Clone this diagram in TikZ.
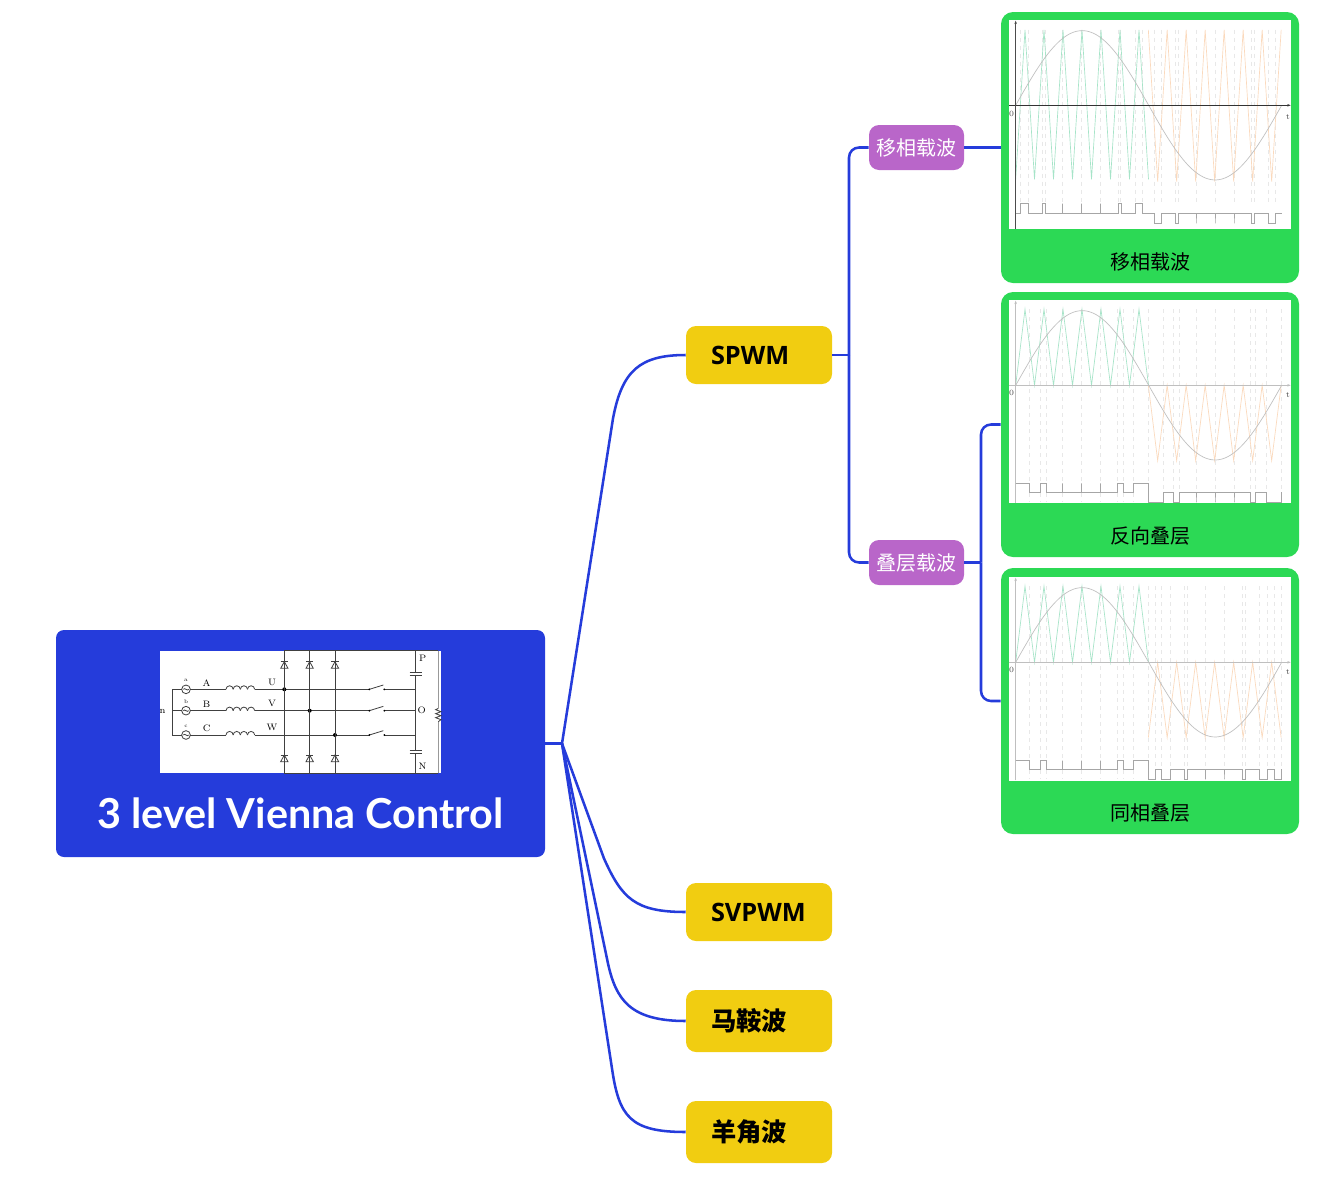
\documentclass[tikz,border=0pt]{standalone}
\usepackage{fontspec}
\newfontfamily\topicfont{Open Sans}
\newfontfamily\cjk{Noto Sans CJK SC}
\newfontfamily\titlefont{Lato}
\usepackage{tikz}
\usetikzlibrary{positioning, arrows.meta}
\definecolor{accblue}{HTML}{253CDB}
\definecolor{accgreen}{HTML}{2CD955}
\definecolor{accyellow}{HTML}{F1CD11}
\definecolor{accpurple}{HTML}{B966C9}
\definecolor{wavegreen}{HTML}{A6E4C8}
\definecolor{waveorange}{HTML}{FBD9BC}

\begin{document}
\begin{tikzpicture}[x=0.75pt, y=-0.75pt,
                rootbox/.style={fill=accblue, rounded corners=6pt, minimum width=366.75pt, minimum height=170.25pt, inner sep=0pt},
                topicbox/.style={fill=accyellow, rounded corners=7.5pt, minimum width=109.5pt, inner xsep=18.75pt, text width=72pt, align=left, font=\fontsize{19}{21}\selectfont\topicfont\bfseries},
                tagbox/.style={fill=accpurple, rounded corners=7.5pt, minimum width=71.25pt, minimum height=33.75pt, inner sep=0pt, text=white, font=\fontsize{15}{17}\selectfont\cjk},
                cardbox/.style={fill=accgreen, rounded corners=9pt, minimum width=223.5pt, inner sep=0pt},
                shotbox/.style={fill=white, minimum width=211.5pt, inner sep=0pt},
                cardlabel/.style={font=\fontsize{15}{17}\selectfont\cjk},
                edge/.style={draw=accblue, line width=1.9pt},
                wire/.style={draw=black!75, line width=0.6pt},
                sinewave/.style={draw=black!25, line width=0.5pt},
                greenwave/.style={draw=wavegreen, line width=0.5pt},
                orangewave/.style={draw=waveorange, line width=0.5pt},
                guide/.style={draw=black!9, line width=0.4pt, dashed},
                pwmline/.style={draw=black!35, line width=0.6pt},
                plotlabel/.style={font=\fontsize{6}{7}\selectfont, text=black!70, inner sep=0pt},
                circuitlabel/.style={font=\fontsize{7}{8}\selectfont, inner sep=0pt}
            ]
            \useasboundingbox (0,0) rectangle (1336,1193);

            % nodes
            \node[rootbox] (root) at (300.5,743.5) {};
            \node[fill=white, minimum width=210.75pt, minimum height=91.5pt, inner sep=0pt] (circuit) at (300.5,712) {};
            \node[text=white, inner sep=0pt, font=\fontsize{31}{33}\selectfont\titlefont\bfseries] (title) at (300.5,813) {3 level Vienna Control};
            \node[topicbox, minimum height=43.5pt] (spwm) at (759,355) {SPWM};
            \node[topicbox, minimum height=43.5pt] (svpwm) at (759,912) {SVPWM};
            \node[topicbox, minimum height=46.5pt] (saddle) at (759,1021) {\cjk 马鞍波};
            \node[topicbox, minimum height=46.5pt] (sheep) at (759,1132) {\cjk 羊角波};
            \node[tagbox] (shift) at (916.5,147.5) {\raisebox{-0.75pt}{移相载波}};
            \node[tagbox] (stack) at (916.5,562.5) {\raisebox{-0.75pt}{叠层载波}};
            \node[cardbox, minimum height=203.25pt] (cardA) at (1150,147.5) {};
            \node[cardbox, minimum height=198.75pt] (cardB) at (1150,424.5) {};
            \node[cardbox, minimum height=199.5pt] (cardC) at (1150,701) {};
            \node[shotbox, minimum height=156.75pt] (shotA) at (1150,124.5) {};
            \node[shotbox, minimum height=152.25pt] (shotB) at (1150,401.5) {};
            \node[shotbox, minimum height=153pt] (shotC) at (1150,679) {};
            \node[cardlabel] (labelA) at (1150,261.5) {移相载波};
            \node[cardlabel] (labelB) at (1150,535.5) {反向叠层};
            \node[cardlabel] (labelC) at (1150,812.5) {同相叠层};
            \coordinate (hub) at (562,743.5);
            \coordinate (trunk) at (849,355);
            \coordinate (branch) at (981,562.5);

            % edges
            \draw[edge] (root.east) -- (hub);
            \draw[edge] (hub) -- ++(51,-325) .. controls ++(9,-48) and (640,355) .. (spwm.west);
            \draw[edge] (hub) -- ++(42,115) .. controls ++(18,40) and (635,912) .. (svpwm.west);
            \draw[edge] (hub) -- ++(46,220) .. controls ++(8,36) and (630,1021) .. (saddle.west);
            \draw[edge] (hub) -- ++(50,325) .. controls ++(7,48) and (630,1132) .. (sheep.west);
            \draw[edge] (spwm.east) -- (trunk);
            \draw[edge, rounded corners=7.5pt] (trunk) |- (shift.west);
            \draw[edge, rounded corners=7.5pt] (trunk) |- (stack.west);
            \draw[edge] (shift.east) -- (cardA.west |- shift.east);
            \draw[edge] (stack.east) -- (branch);
            \draw[edge, rounded corners=7.5pt] (branch) |- (cardB.west);
            \draw[edge, rounded corners=7.5pt] (branch) |- (cardC.west);

            % circuit
            \begin{scope}[shift={(150,640)}, scale=1/3]
                \draw[wire] (95,148) -- (67,148) -- (67,285) -- (95,285) (67,212) -- (95,212);
                \foreach \yw/\src/\phase/\out in {148/a/A/U, 212/b/B/V, 285/c/C/W} {
                    \draw[wire] (108,\yw) circle (13);
                    \draw[wire] (100,\yw) .. controls (104,\yw-7) and (112,\yw+7) .. (116,\yw);
                    \draw[wire] (121,\yw) -- (228,\yw);
                    \foreach \xi in {228,249.5,271,292.5} {
                        \draw[wire] (\xi,\yw) arc (180:360:10.75);
                    }
                    \draw[wire] (314,\yw) -- (658,\yw);
                    \draw[wire] (658,\yw) -- (700,\yw-13);
                    \draw[wire] (703,\yw) -- (797,\yw);
                    \fill (658,\yw) circle (3);
                    \fill (703,\yw) circle (3);
                    \node[circuitlabel, font=\fontsize{4}{5}\selectfont] (src\src) at (108,\yw-26) {\src};
                    \node[circuitlabel] (ph\phase) at (170,\yw-20) {\phase};
                    \node[circuitlabel] (out\out) at (366,\yw-22) {\out};
                }
                \foreach \xc/\yc in {403/148, 479/212, 555/285} {
                    \fill (\xc,\yc) circle (6);
                }
                \foreach \xc in {403,479,555} {
                    \draw[wire] (\xc,32) -- (\xc,400);
                    \foreach \yd in {65,345} {
                        \draw[wire] (\xc-11,\yd+20) -- (\xc+11,\yd+20) -- (\xc,\yd) -- cycle;
                        \draw[wire] (\xc-11,\yd) -- (\xc+11,\yd);
                    }
                }
                \draw[wire] (403,32) -- (865,32) (403,400) -- (865,400);
                \draw[wire] (797,32) -- (797,97) (797,107) -- (797,330) (797,341) -- (797,400);
                \draw[wire] (779,97) -- (815,97) (779,107) -- (815,107);
                \draw[wire] (779,330) -- (815,330) (779,341) -- (815,341);
                \draw[draw=black!40, line width=1pt] (865,32) -- (865,205) (865,245) -- (865,400);
                \draw[wire] (865,205) -- (857,209) -- (873,215) -- (857,221) -- (873,227) -- (857,233) -- (873,239) -- (865,245);
                \node[circuitlabel] (plabel) at (818,55) {P};
                \node[circuitlabel] (olabel) at (815,210) {O};
                \node[circuitlabel] (nlabel) at (818,378) {N};
                \node[circuitlabel] (nleft) at (38,215) {n};
            \end{scope}

            % phase shifted carriers
            \begin{scope}[shift={(1000,105.3)}, scale=1/3]
                \foreach \xg in {62,85,128,135,188,245,302,355,362,405,428,462,485,525,535,588,645,702,755,762,805,825} {
                    \draw[guide] (\xg,-226) -- (\xg,295);
                }
                \draw[greenwave] (47,222) \foreach \xp in {75,132,189,246,303,360,417} { -- (\xp,-226) -- (\xp+28.5,222)};
                \draw[orangewave] (445,-226) \foreach \xt in {473,530,587,644,701,758,815} { -- (\xt,229) -- (\xt+28.5,-226)};
                \draw[sinewave] plot[domain=47:845, samples=120, smooth] (\x,{-224*sin((\x-47)/798*360)});
                \draw[draw=black!80, line width=0.6pt, -{Stealth[length=2.5pt]}] (27,0) -- (872,0);
                \draw[draw=black!70, line width=0.6pt, -{Stealth[length=2.5pt]}] (47,372) -- (47,-254);
                \draw[pwmline] (47,324) -| (62,295) -| (85,324) -| (128,295) -| (135,324) -| (188,295) -| (188,324) -| (245,295) -| (245,324) -| (302,295) -| (302,324) -| (355,295) -| (365,324) -| (407,295) -| (428,324) -| (462,354) -| (485,324) -| (525,354) -| (535,324) -| (588,354) -| (588,324) -| (645,354) -| (645,324) -| (702,354) -| (702,324) -| (755,354) -| (763,324) -| (805,354) -| (825,324) -- (845,324);
                \node[plotlabel] (zeroA) at (35,26) {0};
                \node[plotlabel] (timeA) at (864,34) {t};
            \end{scope}

            % opposite disposition
            \begin{scope}[shift={(1000,385.3)}, scale=1/3]
                \foreach \xg in {88,122,139,188,245,302,353,370,401,445,490,521,538,588,645,702,750,765,800,845} {
                    \draw[guide] (\xg,-228) -- (\xg,350);
                }
                \draw[greenwave] (47,0) \foreach \xp in {75,132,189,246,303,360,417} { -- (\xp,-228) -- (\xp+28.5,0)};
                \draw[orangewave] (445,0) \foreach \xt in {473,530,587,644,701,758,815} { -- (\xt,226) -- (\xt+28.5,0)};
                \draw[sinewave] plot[domain=47:845, samples=120, smooth] (\x,{-224*sin((\x-47)/798*360)});
                \draw[draw=black!25, line width=0.6pt, -{Stealth[length=2.5pt]}] (27,0) -- (872,0);
                \draw[draw=black!25, line width=0.6pt, -{Stealth[length=2.5pt]}] (47,354) -- (47,-254);
                \draw[pwmline] (47,294) -| (88,321) -| (122,294) -| (139,321) -| (188,294) -| (188,321) -| (245,294) -| (245,321) -| (302,294) -| (302,321) -| (353,294) -| (370,321) -| (401,294) -| (445,351) -| (490,321) -| (521,351) -| (538,321) -| (588,351) -| (588,321) -| (645,351) -| (645,321) -| (702,351) -| (702,321) -| (750,351) -| (765,321) -| (800,351) -- (845,351) -- (845,321);
                \node[plotlabel] (zeroB) at (35,24) {0};
                \node[plotlabel] (timeB) at (864,30) {t};
            \end{scope}

            % phase disposition
            \begin{scope}[shift={(1000,662.3)}, scale=1/3]
                \foreach \xg in {88,122,139,188,245,302,353,370,401,445,465,485,512,552,563,617,672,727,737,777,802,822,845} {
                    \draw[guide] (\xg,-228) -- (\xg,350);
                }
                \draw[greenwave] (47,0) \foreach \xp in {75,132,189,246,303,360,417} { -- (\xp,-228) -- (\xp+28.5,0)};
                \draw[orangewave] (445,226) \foreach \xt in {473,530,587,644,701,758,815} { -- (\xt,0) -- (\xt+28.5,226)};
                \draw[sinewave] plot[domain=47:845, samples=120, smooth] (\x,{-224*sin((\x-47)/798*360)});
                \draw[draw=black!25, line width=0.6pt, -{Stealth[length=2.5pt]}] (27,0) -- (872,0);
                \draw[draw=black!25, line width=0.6pt, -{Stealth[length=2.5pt]}] (47,354) -- (47,-254);
                \draw[pwmline] (47,295) -| (88,321) -| (122,295) -| (139,321) -| (188,295) -| (188,321) -| (245,295) -| (245,321) -| (302,295) -| (302,321) -| (353,295) -| (370,321) -| (401,295) -| (445,351) -| (465,321) -| (485,351) -| (512,321) -| (552,351) -| (563,321) -| (617,351) -| (617,321) -| (672,351) -| (672,321) -| (727,351) -| (737,321) -| (777,351) -| (802,321) -| (822,351) -- (845,351) -- (845,321);
                \node[plotlabel] (zeroC) at (35,24) {0};
                \node[plotlabel] (timeC) at (864,30) {t};
            \end{scope}
\end{tikzpicture}
\end{document}
